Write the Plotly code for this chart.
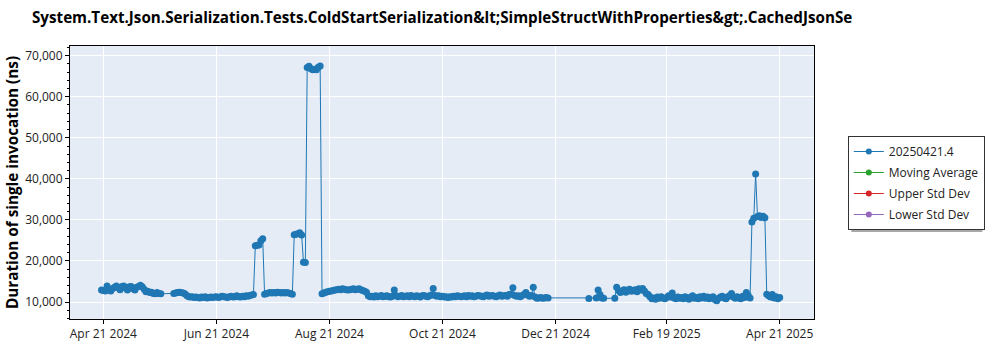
import plotly.graph_objects as go
import pandas as pd

# ---------------- data ----------------
series_name = "20250421.4"
title_text = ("System.Text.Json.Serialization.Tests.ColdStartSerialization&amp;lt;"
              "SimpleStructWithProperties&amp;gt;.CachedJsonSe")
y_title = "Duration of single invocation (ns)"

# daily values (ns), each list starts at its own date
p_apr2024_start = "2024-04-20"
p_apr2024 = [12900, 12800, 12700, 13900, 12900, 12700, 13300, 13600, 13900, 13500,
             13000, 13800, 13900, 13400, 12900, 13700, 13800, 13200, 12900, 13600,
             13800, 14100, 13700, 13100, 12500, 12600, 12300, 12400, 12100, 12000,
             12300, 12100, 12000]

p_jun2024_start = "2024-05-29"
p_jun2024 = [12100, 12200, 12300, 12400, 12300, 12200, 12000, 11600, 11300, 11200,
             11300, 11100, 11200, 11100, 11000, 11200, 11100, 11300, 11000, 11100,
             11200, 11100, 11200, 11300, 11100, 11200, 11400, 11300, 11200, 11100,
             11300, 11400, 11200, 11300, 11500, 11300, 11200, 11400, 11300, 11500,
             11400, 11600, 11700, 11800]

p_jul_spike_start = "2024-07-12"
p_jul_spike = [23700, 23800, 23900, 24900, 25400]

p_jul_aug_start = "2024-07-17"
p_jul_aug = [11900, 12100, 12200, 12300, 12200, 12300, 12200, 12400, 12300, 12200,
             12300, 12200, 12300, 12200, 12100, 11900]

p_aug_spike_start = "2024-08-02"
p_aug_spike = [26400, 26500, 26600, 26900, 26300, 19700, 19600]

p_aug_peak_start = "2024-08-09"
p_aug_peak = [67100, 67400, 66800, 66600, 66700, 66600, 67200, 67500]

p_late_aug_start = "2024-08-17"
p_late_aug = [12000, 12200, 12400, 12500, 12600, 12700, 12800, 12900, 13000, 13100,
              13000, 13200, 13100, 13000, 12900, 13000, 13100, 13200, 13000, 13100,
              13200, 13000, 12800, 12600, 12400]

p_autumn_start = "2024-09-11"
p_autumn = [11500, 11300, 11400, 11200, 11500, 11300, 11400, 11600, 11300, 11400,
            11500, 11300, 11200, 11400, 12900, 11500, 11300, 11400, 11600, 11300,
            11400, 11500, 11300, 11600, 11400, 11300, 11500, 11400, 11200, 11500,
            11600, 11400, 11300, 11500, 11700, 13300, 11600, 11400, 11500, 11300,
            11400, 11200, 11300, 11100, 11300, 11200, 11400, 11300, 11500, 11400,
            11300, 11400, 11500, 11300, 11600, 11400, 11500, 11300, 11400, 11600,
            11500, 11400, 11300, 11500, 11700, 11400, 11500, 11600, 11400, 11300,
            11500, 11700, 11400, 11500, 11600, 11400, 11800, 11900, 13500, 11600,
            11400, 11500, 11300, 11600, 11800, 12300, 11700, 11400, 11600, 13600,
            11200, 10900, 11000, 11100, 10900, 11000, 11100, 11000]

p_jan_a_start = "2025-01-08"
p_jan_a = [10850]

p_jan_b_start = "2025-01-12"
p_jan_b = [11000, 12900, 11800, 11000, 10900]

p_winter_start = "2025-01-22"
p_winter = [10900, 13600, 12800, 12300, 12700, 13000, 12400, 12900, 13100, 12600,
            12800, 13000, 12500, 13200, 12900, 13300, 12700, 12100]

p_spring_start = "2025-02-09"
p_spring = [11800, 11300, 10800, 11000, 10700, 11200, 10900, 11300, 11000, 10800,
            11100, 11500, 11200, 12200, 11000, 10800, 11200, 10900, 11100, 10800,
            11300, 11000, 10700, 11200, 11500, 10900, 11100, 10800, 11300, 11000,
            11400, 10900, 11200, 10800, 11100, 11300, 10600, 10300, 10900, 11200,
            11400, 11000, 10800, 11300, 11600, 12100, 11200, 10900, 11300, 11000,
            10800, 11400, 11100, 12300, 11600, 11000]

p_apr_spike_start = "2025-04-06"
p_apr_spike = [29500, 30400, 41200, 30800, 31000, 30600, 30900, 30500]

p_apr_end_start = "2025-04-14"
p_apr_end = [11900, 11500, 11200, 11800, 11000, 11300, 10800, 11100]

moving_avg = []
upper_std = []
lower_std = []

x_tick_dates = ["2024-04-21", "2024-06-21", "2024-08-21", "2024-10-21",
                "2024-12-21", "2025-02-19", "2025-04-21"]
x_tick_labels = ["Apr 21 2024", "Jun 21 2024", "Aug 21 2024", "Oct 21 2024",
                 "Dec 21 2024", "Feb 19 2025", "Apr 21 2025"]
y_tick_vals = [10000, 20000, 30000, 40000, 50000, 60000, 70000]

# ---------------- build ----------------
segments = [
    (p_apr2024_start, p_apr2024), (p_jun2024_start, p_jun2024),
    (p_jul_spike_start, p_jul_spike), (p_jul_aug_start, p_jul_aug),
    (p_aug_spike_start, p_aug_spike), (p_aug_peak_start, p_aug_peak),
    (p_late_aug_start, p_late_aug), (p_autumn_start, p_autumn),
    (p_jan_a_start, p_jan_a), (p_jan_b_start, p_jan_b),
    (p_winter_start, p_winter), (p_spring_start, p_spring),
    (p_apr_spike_start, p_apr_spike), (p_apr_end_start, p_apr_end),
]
xs, ys = [], []
for start, vals in segments:
    xs.extend(pd.date_range(start, periods=len(vals), freq="D"))
    ys.extend(vals)

FONT = "Segoe UI, Open Sans, sans-serif"
BLUE = "#1f77b4"

fig = go.Figure()
# data trace (legend entry drawn by a matching legend-only trace below)
fig.add_trace(go.Scatter(x=xs, y=ys, mode="lines+markers", name=series_name,
                         legendgroup="g0", showlegend=False,
                         line=dict(color=BLUE, width=1),
                         marker=dict(color=BLUE, size=7)))
legend_items = [(series_name, BLUE, []),
                ("Moving Average", "#2ca02c", moving_avg),
                ("Upper Std Dev", "#d62728", upper_std),
                ("Lower Std Dev", "#9467bd", lower_std)]
for i, (nm, col, arr) in enumerate(legend_items):
    fig.add_trace(go.Scatter(x=arr if arr else [None], y=arr if arr else [None],
                             mode="lines+markers", name=nm, legendgroup=f"g{i}",
                             line=dict(color=col, width=1),
                             marker=dict(color=col, size=6)))

PL, PR, PT, PB = 70, 813.7, 46, 319
pw, ph = PR - PL, PB - PT

def px2paper_x(px):
    return (px - PL) / pw

def px2paper_y(py):
    return (PB - py) / ph

fig.update_layout(
    width=1000, height=350, autosize=False,
    margin=dict(l=PL, r=1000 - PR, t=PT, b=350 - PB, pad=0),
    paper_bgcolor="white", plot_bgcolor="#E5ECF6",
    font=dict(family=FONT, size=12, color="#222"),
    title=dict(text=title_text, xref="container", yref="container",
               x=0.032, xanchor="left", y=1 - 18 / 350, yanchor="middle",
               font=dict(family=FONT, size=15.2, color="black", weight="bold")),
    showlegend=True,
    legend=dict(x=px2paper_x(847.5), y=px2paper_y(136), xanchor="left", yanchor="top",
                bgcolor="white", bordercolor="#333", borderwidth=1,
                tracegroupgap=2,
                font=dict(family=FONT, size=12, color="#222")),
    shapes=[dict(type="rect", xref="paper", yref="paper", layer="below",
                 x0=px2paper_x(851), x1=px2paper_x(982),
                 y0=px2paper_y(232), y1=px2paper_y(140),
                 fillcolor="#A8A8A8", line=dict(width=0))],
)
fig.update_xaxes(type="date", range=["2024-04-03", "2025-05-09 12:00"],
                 automargin=False,
                 tickmode="array", tickvals=x_tick_dates, ticktext=x_tick_labels,
                 showline=True, linecolor="black", linewidth=1, mirror=True,
                 ticks="outside", ticklen=4, tickcolor="black",
                 showgrid=True, gridcolor="white", gridwidth=1, zeroline=False,
                 tickfont=dict(size=12, color="#222"))
fig.update_yaxes(range=[5860, 72360], tickmode="array", tickvals=y_tick_vals,
                 tickformat=",d", automargin=False,
                 showline=True, linecolor="black", linewidth=1, mirror=True,
                 ticks="outside", ticklen=4, tickcolor="black",
                 minor=dict(ticks="outside", ticklen=2, tickcolor="black",
                            tickmode="linear", tick0=0, dtick=2000, showgrid=False),
                 showgrid=True, gridcolor="white", gridwidth=1, zeroline=False,
                 tickfont=dict(size=12, color="#222"),
                 title=dict(text=y_title, standoff=2,
                            font=dict(family=FONT, size=15.3, color="black",
                                      weight="bold")))

fig.write_html("out.html")
